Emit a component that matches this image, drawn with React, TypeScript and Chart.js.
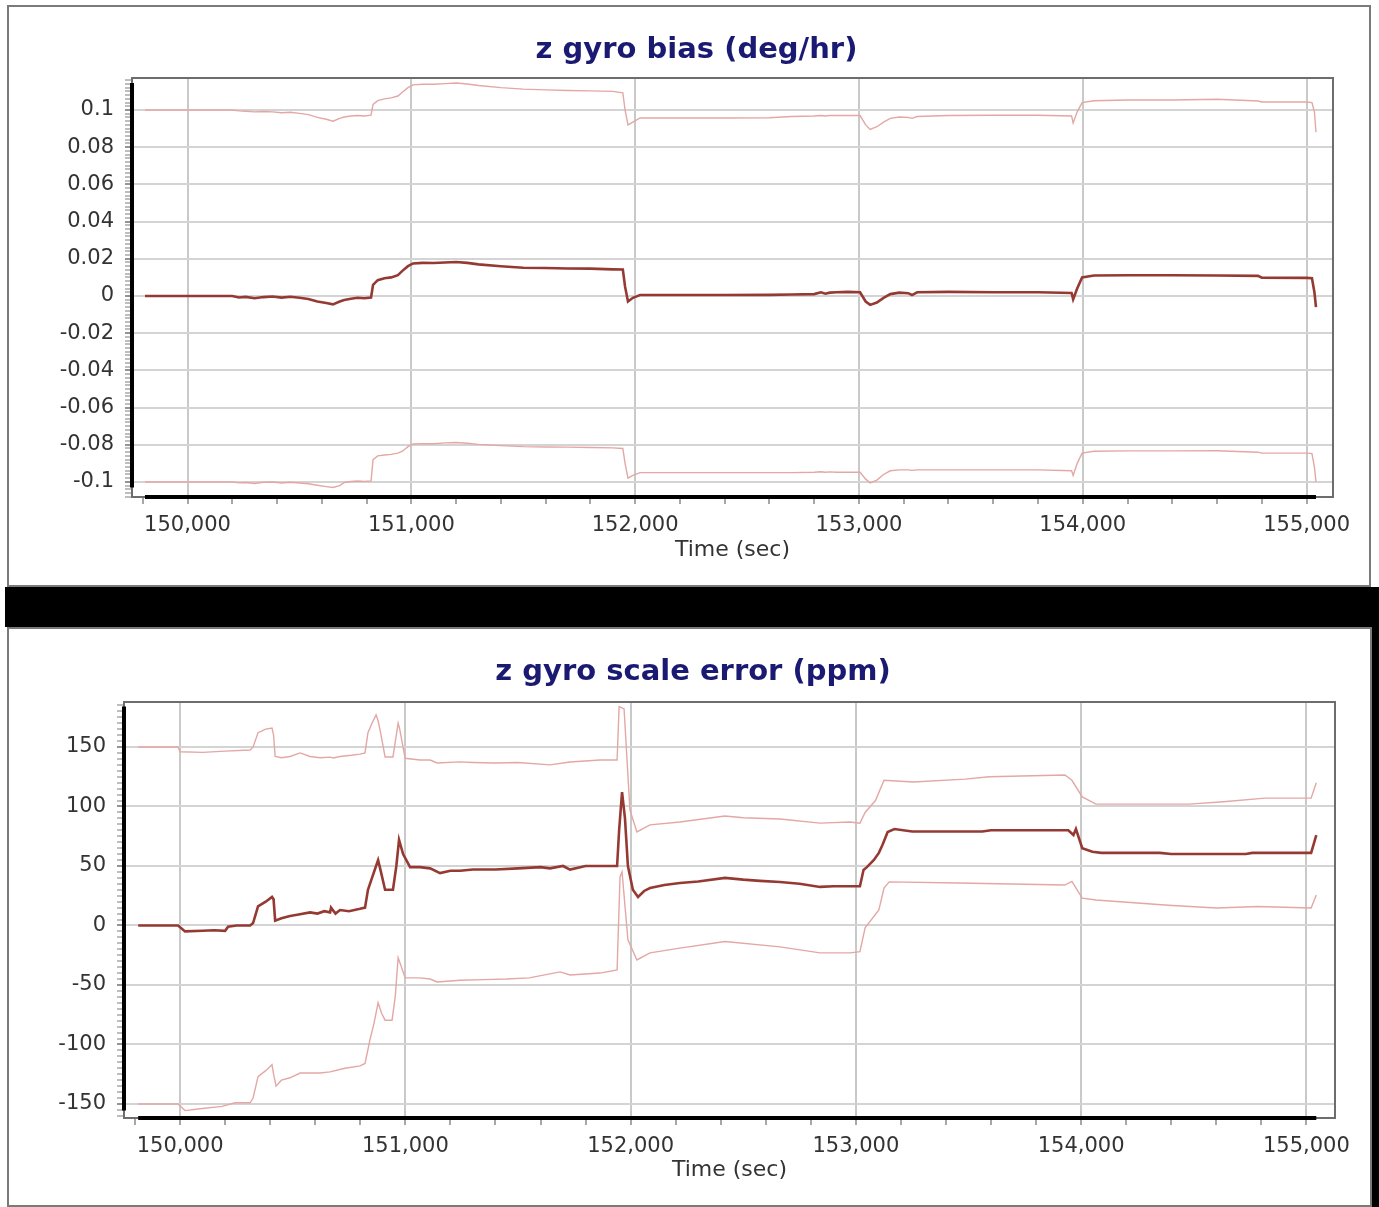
import React, { useEffect, useRef } from "react";
import { Chart, registerables } from "chart.js";

Chart.register(...registerables);

// ---------------- data ----------------
// z gyro bias (deg/hr)
const biasTime = [
  149810, 150000, 150200, 150230, 150260, 150300, 150340, 150380, 150420, 150460,
  150500, 150540, 150580, 150620, 150650, 150680, 150700, 150730, 150760, 150790,
  150820, 150829, 150850, 150880, 150910, 150940, 150960, 150985, 151008, 151050,
  151100, 151150, 151200, 151250, 151300, 151400, 151500, 151600, 151700, 151800,
  151900, 151945, 151955, 151968, 151990, 152022, 152200, 152400, 152600, 152700,
  152800, 152830, 152850, 152870, 152900, 152950, 153005, 153030, 153050, 153080,
  153110, 153140, 153180, 153220, 153237, 153260, 153400, 153600, 153800, 153950,
  153957, 153975, 153997, 154050, 154200, 154400, 154600, 154783, 154800, 155000,
  155024, 155035, 155042,
];
const biasUpper = [
  0.1, 0.1, 0.1, 0.0995, 0.0993, 0.099, 0.0992, 0.099, 0.0985, 0.0988,
  0.0982, 0.0975, 0.096, 0.095, 0.094, 0.0955, 0.0962, 0.0968, 0.097, 0.0968,
  0.0972, 0.103, 0.105, 0.106, 0.1065, 0.1075, 0.1095, 0.112, 0.1135, 0.1138,
  0.1138, 0.1142, 0.1145, 0.114, 0.1132, 0.112, 0.1112, 0.1108, 0.1105, 0.1103,
  0.11, 0.1092, 0.1, 0.092, 0.0935, 0.0957, 0.0957, 0.0957, 0.0958, 0.0965,
  0.0968, 0.097, 0.0968, 0.097, 0.097, 0.0971, 0.097, 0.092, 0.0895, 0.091,
  0.0935, 0.0955, 0.0962, 0.096, 0.0955, 0.0965, 0.097, 0.0972, 0.0972, 0.0968,
  0.093, 0.099, 0.104, 0.105, 0.1054, 0.1054, 0.1058, 0.1048, 0.1043, 0.1043,
  0.104, 0.099, 0.088,
];
const biasMid = [
  0, 0, 0, -0.0008, -0.0005, -0.0012, -0.0006, -0.0003, -0.0009, -0.0004,
  -0.001, -0.0016, -0.003, -0.0038, -0.0045, -0.003, -0.0022, -0.0015, -0.001, -0.0012,
  -0.0008, 0.006, 0.0085, 0.0095, 0.01, 0.0112, 0.0135, 0.016, 0.0175, 0.0178,
  0.0177, 0.018, 0.0183, 0.0178, 0.017, 0.016, 0.0152, 0.015, 0.0148, 0.0147,
  0.0143, 0.0142, 0.005, -0.003, -0.001, 0.0005, 0.0005, 0.0005, 0.0006, 0.0008,
  0.001, 0.002, 0.0012, 0.0018, 0.002, 0.0022, 0.002, -0.003, -0.0048, -0.0035,
  -0.001, 0.001, 0.0018, 0.0015, 0.0005, 0.002, 0.0022, 0.002, 0.002, 0.0016,
  -0.0018, 0.004, 0.01, 0.011, 0.0111, 0.0111, 0.011, 0.0108, 0.0098, 0.0097,
  0.0095, 0.002, -0.006,
];
const biasLower = [
  -0.1, -0.1, -0.1, -0.1005, -0.1003, -0.1008, -0.1002, -0.1, -0.1006, -0.1002,
  -0.1006, -0.101, -0.1018, -0.1025, -0.103, -0.102, -0.1003, -0.0998, -0.0995, -0.0997,
  -0.0995, -0.088, -0.086, -0.0855, -0.0852, -0.0845, -0.0835, -0.081, -0.0796, -0.0795,
  -0.0795, -0.079, -0.0788, -0.0792, -0.0798, -0.0805, -0.081, -0.0812, -0.0813, -0.0815,
  -0.0817, -0.082, -0.09, -0.098, -0.0965, -0.095, -0.095, -0.095, -0.095, -0.095,
  -0.0948, -0.0945, -0.0948, -0.0946, -0.0948, -0.0948, -0.0948, -0.0985, -0.1005, -0.099,
  -0.096, -0.094, -0.0935, -0.0935, -0.0938, -0.0935, -0.0935, -0.0935, -0.0935, -0.094,
  -0.0965, -0.09, -0.0845, -0.0835, -0.0833, -0.0833, -0.0832, -0.084, -0.0845, -0.0845,
  -0.0848, -0.092, -0.1,
];

// z gyro scale error (ppm)
const scaleMidTime = [
  149814, 149991, 150022, 150100, 150150, 150200, 150213, 150250, 150311, 150324,
  150346, 150380, 150408, 150415, 150422, 150450, 150488, 150520, 150577, 150610,
  150640, 150666, 150670, 150690, 150710, 150750, 150799, 150821, 150834, 150852,
  150870, 150879, 150888, 150910, 150945, 150960, 150972, 150990, 151021, 151065,
  151110, 151154, 151200, 151243, 151300, 151400, 151500, 151600, 151642, 151700,
  151731, 151800, 151864, 151940, 151949, 151962, 151975, 151988, 152010, 152033,
  152060, 152086, 152150, 152219, 152300, 152419, 152500, 152574, 152663, 152750,
  152841, 152900, 152974, 153018, 153034, 153049, 153080, 153102, 153118, 153141,
  153171, 153250, 153400, 153561, 153600, 153800, 153943, 153966, 153977, 154005,
  154050, 154089, 154349, 154400, 154731, 154760, 155021, 155044,
];
const scaleMid = [
  0, 0, -5, -4.5, -4, -4.5, -1, 0, 0, 2,
  16, 20, 24, 22, 4, 6, 8, 9, 11, 10,
  12, 11, 15, 10, 13, 12, 14, 15, 30, 40,
  50, 55, 48, 30, 30, 50, 72, 60, 49, 49,
  48, 44, 46, 46, 47, 47, 48, 49, 48, 50,
  47, 50, 50, 50, 80, 112, 90, 50, 30, 24,
  29, 31.5, 34, 35.7, 37, 40, 38.5, 37.5, 36.5, 35,
  32.4, 33, 33, 33, 46.6, 49, 55, 61, 67.6, 78.6,
  81, 79, 79, 79, 80, 80, 80, 76, 81, 65,
  62, 61, 61, 60, 60, 61, 61, 76,
];
const scaleUpperTime = [
  149814, 149991, 150000, 150100, 150200, 150311, 150324, 150346, 150380, 150408,
  150415, 150422, 150450, 150488, 150533, 150577, 150621, 150666, 150679, 150710,
  150760, 150799, 150821, 150834, 150852, 150870, 150879, 150888, 150910, 150945,
  150968, 150975, 150999, 151065, 151110, 151141, 151243, 151300, 151400, 151500,
  151642, 151731, 151864, 151940, 151949, 151971, 151997, 152028, 152086, 152219,
  152419, 152500, 152663, 152841, 152974, 153018, 153041, 153087, 153125, 153255,
  153485, 153592, 153928, 153959, 154005, 154066, 154479, 154632, 154815, 155021,
  155044,
];
const scaleUpper = [
  150, 150, 146, 145.5, 146.5, 147.5, 150, 162, 165, 166,
  160, 142, 141, 142, 145, 142, 141, 141.5, 140.7, 142,
  143, 144, 145, 162, 170, 177, 172, 164, 141.6, 141.6,
  170, 165, 140.5, 139, 139, 136.6, 137.5, 137, 136.5, 137,
  135, 137.4, 139, 139, 184, 182, 97, 78.6, 84.5, 87,
  92, 90.5, 89.5, 86, 87, 86, 95, 105, 122, 120.6,
  123, 125, 126.5, 122, 108, 102, 102, 104, 107, 107,
  120,
];
const scaleLowerTime = [
  149814, 149991, 150022, 150089, 150186, 150244, 150311, 150324, 150346, 150380,
  150408, 150415, 150426, 150450, 150488, 150533, 150621, 150666, 150732, 150799,
  150821, 150843, 150861, 150879, 150895, 150910, 150941, 150955, 150968, 150999,
  151065, 151110, 151141, 151243, 151350, 151450, 151550, 151687, 151731, 151864,
  151940, 151953, 151962, 151988, 152028, 152086, 152219, 152419, 152663, 152841,
  152974, 153018, 153041, 153102, 153125, 153148, 153454, 153928, 153959, 154005,
  154066, 154387, 154601, 154784, 155021, 155044,
];
const scaleLower = [
  -150, -150, -155.6, -154, -152, -149, -149, -145, -127, -122,
  -117, -125, -135, -130, -128, -124, -124, -123, -120, -118,
  -116, -96, -82, -65, -74, -79.6, -79.6, -60, -27, -44,
  -44, -45, -47.5, -46, -45.5, -45, -44, -39, -41.6, -40,
  -37.4, 40.8, 45, -12, -29, -23, -19, -13.5, -18, -23,
  -23, -22, -2, 13, 31.5, 36.6, 35.7, 34, 37, 23,
  21.4, 17, 14.7, 16, 14.7, 25.6,
];

// axis ticks
const timeTicks = [150000, 151000, 152000, 153000, 154000, 155000];
const biasTicks = [-0.1, -0.08, -0.06, -0.04, -0.02, 0, 0.02, 0.04, 0.06, 0.08, 0.1];
const scaleTicks = [-150, -100, -50, 0, 50, 100, 150];

// ---------------- styling ----------------
const FONT = "'DejaVu Sans', Verdana, sans-serif";
const MID_COLOR = "#953a33";
const BOUND_COLOR = "#e3a7a5";
const GRID_COLOR = "#d4d4d4";
const VGRID_COLOR = "#c9c9c9";
const TITLE_COLOR = "#1a1a73";
const LABEL_COLOR = "#333333";
const TITLE_SIZE = 29;

function stepValues(min: number, max: number, step: number): number[] {
  const out: number[] = [];
  for (let k = Math.ceil(min / step - 1e-9); k * step <= max + 1e-9; k++) {
    out.push(Math.round(k * step * 1e6) / 1e6);
  }
  return out;
}
const isMajor = (v: number, majors: number[], step: number) =>
  majors.some((m) => Math.abs(m - v) < step / 10);

const pts = (xs: number[], ys: number[]) => xs.map((x, i) => ({ x, y: ys[i] }));

const frameAxesPlugin = {
  id: "frameAxes",
  afterDraw(chart: any, _args: any, opts: any) {
    const { ctx, chartArea: a, scales } = chart;
    const xs = scales.x;
    const ys = scales.y;
    ctx.save();
    ctx.strokeStyle = "#6d6d6d";
    ctx.lineWidth = 2;
    ctx.strokeRect(a.left, a.top, a.right - a.left, a.bottom - a.top);
    ctx.strokeStyle = "#000";
    ctx.lineWidth = 4;
    ctx.beginPath();
    ctx.moveTo(a.left, ys.getPixelForValue(opts.yMax));
    ctx.lineTo(a.left, ys.getPixelForValue(opts.yMin));
    ctx.stroke();
    ctx.beginPath();
    ctx.moveTo(xs.getPixelForValue(opts.xMin), a.bottom);
    ctx.lineTo(xs.getPixelForValue(opts.xMax), a.bottom);
    ctx.stroke();
    ctx.restore();
  },
};

type Series = { time: number[]; values: number[]; color: string; width: number };
type Spec = {
  title: string;
  series: Series[];
  width: number;
  height: number;
  xMin: number;
  xMax: number;
  yMin: number;
  yMax: number;
  yMajors: number[];
  yMinorStep: number;
  yFormat: (v: number) => string;
  padLeft: number;
  padRight: number;
  yWidth: number;
  xHeight: number;
  titleTop: number;
  titleBottom: number;
};

function buildConfig(spec: Spec): any {
  const allX = spec.series.flatMap((s) => s.time);
  const allY = spec.series.flatMap((s) => s.values);
  const xMinorStep = 200;
  const xVals = stepValues(spec.xMin, spec.xMax, xMinorStep);
  const yVals = stepValues(spec.yMin, spec.yMax, spec.yMinorStep);
  const xMaj = (v: number) => isMajor(v, timeTicks, xMinorStep);
  const yMaj = (v: number) => isMajor(v, spec.yMajors, spec.yMinorStep);
  return {
    type: "line",
    data: {
      datasets: spec.series.map((s) => ({
        data: pts(s.time, s.values),
        borderColor: s.color,
        borderWidth: s.width,
        pointRadius: 0,
        tension: 0,
        fill: false,
      })),
    },
    options: {
      animation: false,
      responsive: false,
      maintainAspectRatio: false,
      events: [],
      layout: { padding: { left: spec.padLeft, right: spec.padRight, top: 0, bottom: 0 } },
      plugins: {
        legend: { display: false },
        tooltip: { enabled: false },
        title: {
          display: true,
          text: spec.title,
          color: TITLE_COLOR,
          font: { family: FONT, size: TITLE_SIZE, weight: "bold", lineHeight: 1.2 },
          padding: { top: spec.titleTop, bottom: spec.titleBottom },
        },
        frameAxes: {
          xMin: Math.min(...allX),
          xMax: Math.max(...allX),
          yMin: Math.min(...allY),
          yMax: Math.max(...allY),
        },
      },
      scales: {
        x: {
          type: "linear",
          min: spec.xMin,
          max: spec.xMax,
          afterBuildTicks: (s: any) => {
            s.ticks = xVals.map((v) => ({ value: v }));
          },
          afterFit: (s: any) => {
            s.height = spec.xHeight;
          },
          border: { display: false },
          grid: {
            color: (c: any) => (c.tick && xMaj(c.tick.value) ? VGRID_COLOR : "rgba(0,0,0,0)"),
            lineWidth: 2,
            tickColor: "#8a8a8a",
            tickLength: 7,
            tickWidth: 1.5,
          },
          ticks: {
            autoSkip: false,
            maxRotation: 0,
            minRotation: 0,
            padding: 9,
            color: LABEL_COLOR,
            font: { family: FONT, size: 21 },
            callback: (v: number) => (xMaj(v) ? v.toLocaleString("en-US") : ""),
          },
          title: {
            display: true,
            text: "Time (sec)",
            color: LABEL_COLOR,
            font: { family: FONT, size: 22, lineHeight: 1.2 },
            padding: { top: 0, bottom: 21.8 },
          },
        },
        y: {
          type: "linear",
          min: spec.yMin,
          max: spec.yMax,
          afterBuildTicks: (s: any) => {
            s.ticks = yVals.map((v) => ({ value: v }));
          },
          afterFit: (s: any) => {
            s.width = spec.yWidth;
          },
          border: { display: false },
          grid: {
            color: (c: any) => (c.tick && yMaj(c.tick.value) ? GRID_COLOR : "rgba(0,0,0,0)"),
            lineWidth: 2,
            tickColor: (c: any) => (c.tick && yMaj(c.tick.value) ? "#707070" : "#a8a8a8"),
            tickLength: 7,
            tickWidth: 1.5,
          },
          ticks: {
            autoSkip: false,
            padding: 11,
            color: LABEL_COLOR,
            font: { family: FONT, size: 21 },
            callback: (v: number) => (yMaj(v) ? spec.yFormat(v) : ""),
          },
        },
      },
    },
    plugins: [frameAxesPlugin],
  };
}

function ChartPanel({ spec }: { spec: Spec }) {
  const ref = useRef<HTMLCanvasElement | null>(null);
  useEffect(() => {
    if (!ref.current) return;
    const chart = new Chart(ref.current, buildConfig(spec));
    return () => chart.destroy();
  }, [spec]);
  return (
    <canvas
      ref={ref}
      width={spec.width}
      height={spec.height}
      style={{ position: "absolute", left: 0, top: 0, width: spec.width, height: spec.height }}
    />
  );
}

const biasSpec: Spec = {
  title: "z gyro bias (deg/hr)",
  series: [
    { time: biasTime, values: biasUpper, color: BOUND_COLOR, width: 1.4 },
    { time: biasTime, values: biasLower, color: BOUND_COLOR, width: 1.4 },
    { time: biasTime, values: biasMid, color: MID_COLOR, width: 2.6 },
  ],
  width: 1360,
  height: 578,
  xMin: 149752,
  xMax: 155118,
  yMin: -0.1081,
  yMax: 0.1172,
  yMajors: biasTicks,
  yMinorStep: 0.002,
  yFormat: (v) => String(parseFloat(v.toFixed(2)) || 0),
  padLeft: 51,
  padRight: 36,
  yWidth: 72,
  xHeight: 88,
  titleTop: 25.6,
  titleBottom: 10.6,
};

const scaleSpec: Spec = {
  title: "z gyro scale error (ppm)",
  series: [
    { time: scaleUpperTime, values: scaleUpper, color: BOUND_COLOR, width: 1.4 },
    { time: scaleLowerTime, values: scaleLower, color: BOUND_COLOR, width: 1.4 },
    { time: scaleMidTime, values: scaleMid, color: MID_COLOR, width: 2.6 },
  ],
  width: 1361,
  height: 576,
  xMin: 149751,
  xMax: 155127,
  yMin: -161.8,
  yMax: 187.8,
  yMajors: scaleTicks,
  yMinorStep: 5,
  yFormat: (v) => String(v),
  padLeft: 42,
  padRight: 35,
  yWidth: 73,
  xHeight: 87,
  titleTop: 25.6,
  titleBottom: 12.6,
};

export default function App() {
  const panelBase: React.CSSProperties = {
    position: "absolute",
    boxSizing: "border-box",
    border: "2px solid #7a7a7a",
    background: "#ffffff",
  };
  return (
    <div
      style={{
        position: "absolute",
        left: 0,
        top: 0,
        width: 1379,
        height: 1207,
        background: "#ffffff",
        overflow: "hidden",
      }}
    >
      <div style={{ ...panelBase, left: 7, top: 5, width: 1364, height: 582 }}>
        <ChartPanel spec={biasSpec} />
      </div>
      <div style={{ position: "absolute", left: 5, top: 587, width: 1374, height: 40, background: "#000" }} />
      <div style={{ ...panelBase, left: 7, top: 627, width: 1365, height: 580 }}>
        <ChartPanel spec={scaleSpec} />
      </div>
      <div style={{ position: "absolute", left: 1372, top: 627, width: 7, height: 580, background: "#000" }} />
    </div>
  );
}
